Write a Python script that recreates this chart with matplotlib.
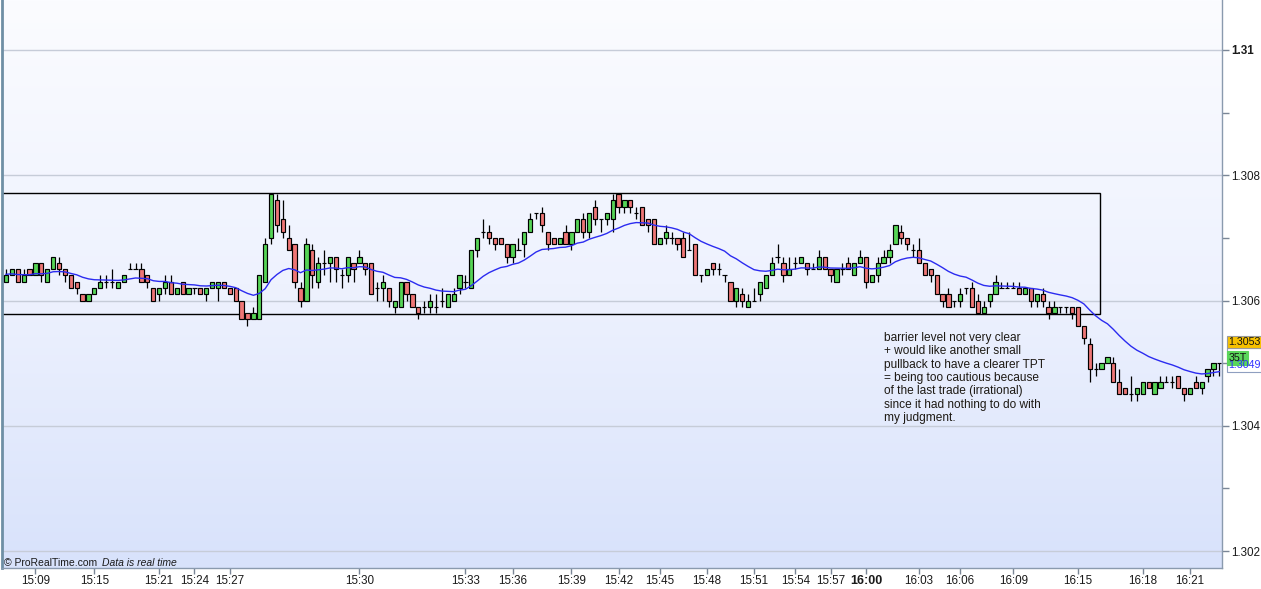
import numpy as np
import matplotlib
matplotlib.use("Agg")
import matplotlib.pyplot as plt
from matplotlib.colors import LinearSegmentedColormap
from matplotlib.patches import Rectangle

plt.rcParams['font.family'] = ['Liberation Sans', 'DejaVu Sans']

# ---------------- data (35-tick candles) ----------------
opens = [1.3063,1.3064,1.3065,1.3063,1.3065,1.3064,1.3066,1.3063,1.3065,1.3066,
         1.3065,1.3064,1.3063,1.3061,1.3060,1.3061,1.3062,1.3063,1.3063,1.3062,
         1.3063,1.3065,1.3065,1.3065,1.3064,1.3062,1.3061,1.3062,1.3063,1.3061,
         1.3063,1.3061,1.3062,1.3062,1.3061,1.3062,1.3062,1.3063,1.3062,1.3062,
         1.3060,1.3058,1.3057,1.3057,1.3063,1.3070,1.3076,1.3073,1.3070,1.3069,
         1.3062,1.3060,1.3068,1.3063,1.3066,1.3066,1.3067,1.3064,1.3064,1.3066,
         1.3066,1.3066,1.3066,1.3062,1.3062,1.3062,1.3059,1.3059,1.3063,1.3061,
         1.3059,1.3059,1.3059,1.3059,1.3060,1.3059,1.3060,1.3062,1.3063,1.3062,
         1.3068,1.3071,1.3071,1.3070,1.3070,1.3069,1.3067,1.3068,1.3069,1.3071,
         1.3074,1.3074,1.3071,1.3070,1.3069,1.3071,1.3069,1.3071,1.3073,1.3071,
         1.3075,1.3073,1.3073,1.3073,1.3077,1.3075,1.3076,1.3074,1.3075,1.3073,
         1.3073,1.3069,1.3070,1.3070,1.3070,1.3070,1.3068,1.3069,1.3064,1.3064,
         1.3066,1.3065,1.3064,1.3063,1.3060,1.3061,1.3059,1.3060,1.3061,1.3062,
         1.3064,1.3067,1.3066,1.3064,1.3066,1.3066,1.3066,1.3065,1.3065,1.3067,
         1.3065,1.3063,1.3065,1.3066,1.3064,1.3066,1.3067,1.3063,1.3064,1.3066,
         1.3067,1.3069,1.3071,1.3070,1.3068,1.3068,1.3066,1.3065,1.3064,1.3061,
         1.3061,1.3060,1.3060,1.3062,1.3062,1.3060,1.3058,1.3060,1.3061,1.3062,
         1.3062,1.3062,1.3062,1.3061,1.3062,1.3060,1.3061,1.3059,1.3058,1.3059,
         1.3059,1.3059,1.3059,1.3056,1.3053,1.3049,1.3049,1.3050,1.3050,1.3047,
         1.3046,1.3045,1.3045,1.3045,1.3047,1.3045,1.3046,1.3047,1.3047,1.3048,
         1.3046,1.3045,1.3047,1.3046,1.3048,1.3049,1.3050]
highs = [1.3065,1.3065,1.3065,1.3065,1.3065,1.3066,1.3066,1.3065,1.3067,1.3067,
         1.3065,1.3064,1.3063,1.3061,1.3061,1.3062,1.3064,1.3064,1.3065,1.3063,
         1.3064,1.3066,1.3066,1.3066,1.3064,1.3062,1.3062,1.3064,1.3064,1.3062,
         1.3063,1.3062,1.3062,1.3062,1.3062,1.3063,1.3063,1.3063,1.3062,1.3062,
         1.3060,1.3058,1.3059,1.3064,1.3070,1.3077,1.3077,1.3076,1.3072,1.3069,
         1.3063,1.3070,1.3069,1.3067,1.3068,1.3067,1.3067,1.3065,1.3067,1.3066,
         1.3068,1.3066,1.3066,1.3063,1.3064,1.3062,1.3060,1.3063,1.3063,1.3061,
         1.3059,1.3060,1.3061,1.3061,1.3062,1.3061,1.3062,1.3064,1.3064,1.3068,
         1.3070,1.3073,1.3072,1.3070,1.3070,1.3069,1.3069,1.3070,1.3071,1.3074,
         1.3074,1.3075,1.3071,1.3070,1.3070,1.3072,1.3071,1.3073,1.3074,1.3074,
         1.3076,1.3073,1.3074,1.3077,1.3077,1.3076,1.3076,1.3075,1.3075,1.3073,
         1.3073,1.3070,1.3072,1.3071,1.3070,1.3071,1.3071,1.3069,1.3064,1.3065,
         1.3066,1.3066,1.3064,1.3063,1.3062,1.3062,1.3061,1.3062,1.3063,1.3064,
         1.3067,1.3069,1.3067,1.3067,1.3067,1.3067,1.3066,1.3066,1.3068,1.3067,
         1.3065,1.3065,1.3066,1.3067,1.3066,1.3068,1.3067,1.3064,1.3067,1.3068,
         1.3069,1.3072,1.3072,1.3070,1.3069,1.3070,1.3066,1.3065,1.3064,1.3061,
         1.3062,1.3060,1.3062,1.3062,1.3063,1.3061,1.3060,1.3061,1.3064,1.3063,
         1.3063,1.3063,1.3063,1.3062,1.3062,1.3061,1.3062,1.3060,1.3060,1.3059,
         1.3059,1.3059,1.3059,1.3056,1.3054,1.3050,1.3050,1.3051,1.3051,1.3049,
         1.3046,1.3048,1.3046,1.3047,1.3047,1.3047,1.3048,1.3048,1.3048,1.3048,
         1.3046,1.3046,1.3048,1.3047,1.3049,1.3050,1.3050]
lows = [1.3063,1.3064,1.3063,1.3063,1.3064,1.3064,1.3063,1.3063,1.3065,1.3064,
        1.3063,1.3062,1.3061,1.3060,1.3060,1.3061,1.3062,1.3062,1.3062,1.3062,
        1.3063,1.3065,1.3065,1.3063,1.3062,1.3060,1.3060,1.3061,1.3061,1.3061,
        1.3061,1.3061,1.3061,1.3061,1.3060,1.3062,1.3060,1.3062,1.3061,1.3060,
        1.3057,1.3056,1.3057,1.3057,1.3063,1.3069,1.3071,1.3070,1.3068,1.3062,
        1.3059,1.3060,1.3062,1.3062,1.3064,1.3063,1.3063,1.3062,1.3063,1.3063,
        1.3066,1.3064,1.3061,1.3060,1.3060,1.3059,1.3058,1.3059,1.3060,1.3059,
        1.3057,1.3058,1.3058,1.3058,1.3059,1.3059,1.3060,1.3061,1.3062,1.3062,
        1.3067,1.3070,1.3069,1.3068,1.3069,1.3066,1.3066,1.3068,1.3067,1.3071,
        1.3073,1.3071,1.3068,1.3069,1.3069,1.3069,1.3068,1.3071,1.3070,1.3070,
        1.3072,1.3071,1.3072,1.3071,1.3074,1.3074,1.3074,1.3073,1.3072,1.3071,
        1.3069,1.3069,1.3069,1.3069,1.3068,1.3067,1.3068,1.3064,1.3063,1.3064,
        1.3064,1.3064,1.3063,1.3060,1.3059,1.3059,1.3059,1.3060,1.3060,1.3062,
        1.3064,1.3066,1.3063,1.3064,1.3065,1.3066,1.3064,1.3065,1.3065,1.3065,
        1.3063,1.3063,1.3064,1.3065,1.3064,1.3066,1.3062,1.3063,1.3063,1.3066,
        1.3066,1.3069,1.3069,1.3068,1.3067,1.3066,1.3064,1.3063,1.3061,1.3059,
        1.3059,1.3059,1.3059,1.3061,1.3059,1.3058,1.3058,1.3059,1.3061,1.3062,
        1.3062,1.3062,1.3061,1.3061,1.3059,1.3059,1.3059,1.3057,1.3058,1.3058,
        1.3058,1.3057,1.3056,1.3053,1.3047,1.3048,1.3049,1.3050,1.3047,1.3045,
        1.3045,1.3044,1.3044,1.3045,1.3046,1.3045,1.3046,1.3047,1.3046,1.3046,
        1.3044,1.3045,1.3046,1.3045,1.3047,1.3048,1.3048]
closes = [1.3064,1.3065,1.3063,1.3064,1.3064,1.3066,1.3064,1.3065,1.3067,1.3065,
          1.3064,1.3062,1.3062,1.3060,1.3061,1.3062,1.3063,1.3063,1.3063,1.3063,
          1.3064,1.3065,1.3065,1.3063,1.3063,1.3060,1.3062,1.3063,1.3061,1.3062,
          1.3061,1.3062,1.3062,1.3061,1.3062,1.3063,1.3063,1.3062,1.3061,1.3060,
          1.3057,1.3057,1.3058,1.3064,1.3069,1.3077,1.3072,1.3071,1.3068,1.3063,
          1.3060,1.3069,1.3064,1.3066,1.3066,1.3067,1.3065,1.3064,1.3067,1.3065,
          1.3067,1.3065,1.3061,1.3062,1.3063,1.3060,1.3060,1.3063,1.3061,1.3059,
          1.3058,1.3059,1.3060,1.3059,1.3060,1.3061,1.3061,1.3064,1.3063,1.3068,
          1.3070,1.3071,1.3070,1.3069,1.3069,1.3067,1.3069,1.3068,1.3071,1.3073,
          1.3074,1.3072,1.3069,1.3069,1.3070,1.3069,1.3071,1.3073,1.3071,1.3074,
          1.3073,1.3073,1.3074,1.3076,1.3075,1.3076,1.3075,1.3074,1.3072,1.3072,
          1.3069,1.3070,1.3071,1.3070,1.3069,1.3067,1.3068,1.3064,1.3064,1.3065,
          1.3065,1.3065,1.3064,1.3060,1.3062,1.3060,1.3060,1.3060,1.3063,1.3064,
          1.3066,1.3067,1.3064,1.3065,1.3066,1.3067,1.3065,1.3065,1.3067,1.3065,
          1.3064,1.3065,1.3065,1.3065,1.3066,1.3067,1.3063,1.3064,1.3066,1.3067,
          1.3068,1.3072,1.3070,1.3069,1.3068,1.3066,1.3064,1.3064,1.3061,1.3060,
          1.3059,1.3060,1.3061,1.3062,1.3059,1.3058,1.3059,1.3061,1.3063,1.3062,
          1.3062,1.3062,1.3061,1.3062,1.3060,1.3061,1.3060,1.3058,1.3059,1.3059,
          1.3059,1.3058,1.3056,1.3054,1.3049,1.3049,1.3050,1.3051,1.3047,1.3045,
          1.3045,1.3045,1.3046,1.3047,1.3046,1.3047,1.3047,1.3047,1.3047,1.3046,
          1.3045,1.3046,1.3046,1.3047,1.3049,1.3050,1.3050]

ma_period = 20
ma_seed = 1.30642

tick_pos = [5, 15, 26, 32, 38, 60, 78, 86, 96, 104, 111, 119, 127, 134, 140, 146,
            155, 162, 171, 182, 193, 201]
tick_labels = ["15:09", "15:15", "15:21", "15:24", "15:27", "15:30", "15:33", "15:36",
               "15:39", "15:42", "15:45", "15:48", "15:51", "15:54", "15:57", "16:00",
               "16:03", "16:06", "16:09", "16:15", "16:18", "16:21"]
y_ticks = [1.302, 1.304, 1.306, 1.308, 1.31]
y_labels = ["1.302", "1.304", "1.306", "1.308", "1.31"]

box_top, box_bottom, box_end = 1.30772, 1.30578, 185.8

note = ("barrier level not very clear\n+ would like another small\n"
        "pullback to have a clearer TPT\n= being too cautious because\n"
        "of the last trade (irrational)\nsince it had nothing to do with\nmy judgment.")
last_price_label = "1.3053"
ma_label = "1.3049"
period_label = "35T"

# ---------------- figure ----------------
W, H = 1261, 589
fig = plt.figure(figsize=(W / 100, H / 100), dpi=100, facecolor="white")
ax_l, ax_r, ax_t, ax_b = 2, 1222, 0, 568
ax = fig.add_axes([ax_l / W, 1 - ax_b / H, (ax_r - ax_l) / W, (ax_b - ax_t) / H])

n = len(closes)
x = np.arange(n)
o = np.array(opens); c = np.array(closes); hi = np.array(highs); lo = np.array(lows)

xmin, xmax = -0.68, 206.45
ymin, ymax = 1.301729, 1.310798
ax.set_xlim(xmin, xmax)
ax.set_ylim(ymin, ymax)

# background gradient
cmap = LinearSegmentedColormap.from_list("bg", ["#fbfcff", "#eef2fe", "#d8e2fb"])
grad = np.linspace(0, 1, 256).reshape(-1, 1)
ax.imshow(grad, cmap=cmap, extent=[xmin, xmax, ymin, ymax], aspect="auto",
          origin="upper", zorder=0)

# grid
for yt in y_ticks:
    ax.axhline(yt, color="#c6ccd8", lw=1.0, zorder=1)

# box
ax.add_patch(Rectangle((xmin - 2, box_bottom), box_end - xmin + 2, box_top - box_bottom,
                       fill=False, edgecolor="black", lw=1.0, zorder=2))

# candles
ax.vlines(x, lo, hi, color="black", lw=0.9, zorder=3)
body_bottom = np.minimum(o, c)
body_h = np.abs(c - o)
colors = np.where(c > o, "#56d556", np.where(c < o, "#ee7676", "#000000"))
ax.bar(x, body_h, bottom=body_bottom, width=0.72, color=colors, edgecolor="black",
       linewidth=0.85, zorder=4)

# moving average (exponential)
alpha = 2.0 / (ma_period + 1)
ma = np.empty(n)
prev = ma_seed
for i in range(n):
    prev = prev + alpha * (c[i] - prev)
    ma[i] = prev
ax.plot(x, ma, color="#2b2bf0", lw=1.0, zorder=5)

# axes styling
ax.spines["top"].set_visible(False)
ax.spines["left"].set_color("#6f8fa5"); ax.spines["left"].set_linewidth(2)
ax.spines["right"].set_color("#8a9aae"); ax.spines["right"].set_linewidth(1)
ax.spines["bottom"].set_color("#8a9aae"); ax.spines["bottom"].set_linewidth(1)

ax.yaxis.tick_right()
ax.set_yticks(y_ticks)
ax.set_yticklabels(y_labels)
ax.set_yticks([1.303, 1.305, 1.307, 1.309], minor=True)
ax.tick_params(axis="y", which="both", direction="out", length=5, width=1,
               color="#7a8696", labelsize=8.4, labelcolor="#1a1a1a", pad=1.5)
for lbl in ax.get_yticklabels():
    if lbl.get_text() == "1.31":
        lbl.set_fontweight("bold")

ax.set_xticks(tick_pos)
ax.set_xticklabels(tick_labels)
ax.tick_params(axis="x", direction="out", length=4, width=1, color="#7a8696",
               labelsize=8.4, labelcolor="#1a1a1a", pad=1)
for lbl in ax.get_xticklabels():
    if lbl.get_text() == "16:00":
        lbl.set_fontweight("bold")
        lbl.set_fontsize(9)

# annotation
fig.text(884 / W, 1 - 332 / H, note, ha="left", va="top", fontsize=8.6,
         color="#1e1a14", linespacing=1.15)

# watermark
fig.text(4 / W, 1 - 563 / H, "© ProRealTime.com", ha="left", va="center",
         fontsize=7.5, color="#1a1a1a")
fig.text(102 / W, 1 - 563 / H, "Data is real time", ha="left", va="center",
         fontsize=7.5, color="#1a1a1a", style="italic")

# price labels on right axis
def px_rect(x0, y0, x1, y1, fc, ec):
    fig.patches.append(Rectangle((x0 / W, 1 - y1 / H), (x1 - x0) / W, (y1 - y0) / H,
                                 transform=fig.transFigure, facecolor=fc, edgecolor=ec,
                                 lw=0.8, zorder=10))

px_rect(1227, 348, 1262, 372, "white", "#8f9fc0")
fig.text(1228.5 / W, 1 - 365 / H, ma_label, ha="left", va="center", fontsize=7.7,
         color="#3030ff", zorder=11)
px_rect(1227, 336, 1262, 348, "#f6c100", "#9a9a9a")
fig.text(1228.5 / W, 1 - 342 / H, last_price_label, ha="left", va="center", fontsize=7.7,
         color="#111111", zorder=11)
px_rect(1227, 351, 1248, 365, "#5ad65a", "#5ad65a")
fig.text(1228.5 / W, 1 - 358 / H, period_label, ha="left", va="center", fontsize=7.7,
         color="#111111", zorder=12)

fig.savefig("out.png", dpi=100, facecolor="white")
